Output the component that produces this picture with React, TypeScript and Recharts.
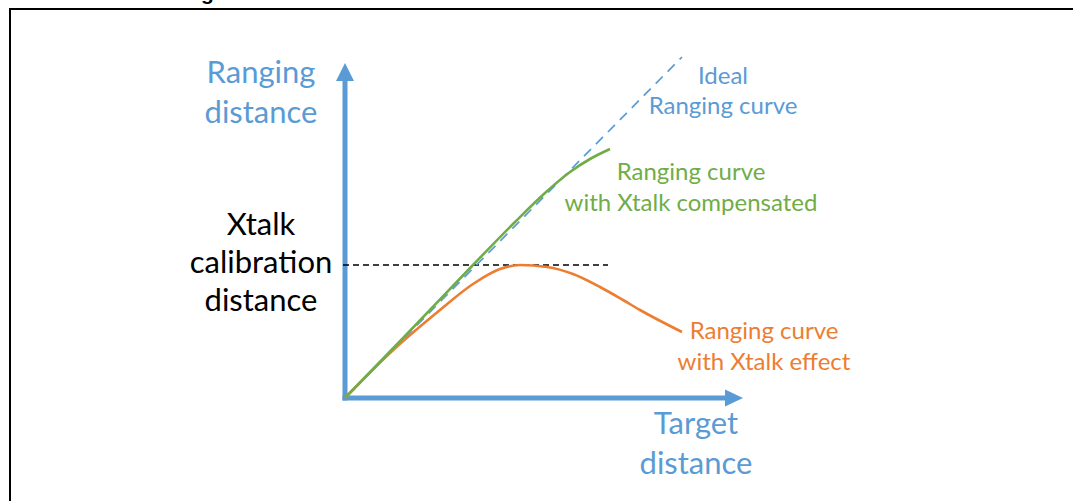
import React from "react";
import {
  LineChart,
  Line,
  XAxis,
  YAxis,
  ReferenceLine,
  ReferenceDot,
} from "recharts";

// chart units: 1 unit ~ 1px, origin at the axes corner
const idealCurve = [
  { x: 0, y: 0 },
  { x: 337, y: 341 },
];

const compensatedCurve = [
  { x: 0, y: 0 },
  { x: 60, y: 62 },
  { x: 128, y: 133 },
  { x: 170, y: 176 },
  { x: 200, y: 205 },
  { x: 225, y: 226 },
  { x: 245, y: 239 },
  { x: 265, y: 249 },
];

const xtalkCurve = [
  { x: 0, y: 0 },
  { x: 45, y: 45 },
  { x: 95, y: 88 },
  { x: 128, y: 114 },
  { x: 155, y: 129 },
  { x: 175, y: 133 },
  { x: 202, y: 131 },
  { x: 228, y: 124 },
  { x: 255, y: 111 },
  { x: 278, y: 98 },
  { x: 295, y: 88 },
  { x: 337, y: 66 },
];

const calibrationLevel = 133;
const calibrationEnd = 263;

const yAxisLabel = ["Ranging", "distance"];
const xAxisLabel = ["Target", "distance"];
const calibLabel = ["Xtalk", "calibration", "distance"];
const idealLabel = ["Ideal", "Ranging curve"];
const compLabel = ["Ranging curve", "with Xtalk compensated"];
const effectLabel = ["Ranging curve", "with Xtalk effect"];

const BLUE = "#5B9BD5";
const GREEN = "#70AD47";
const ORANGE = "#ED7D31";
const FONT = "Lato, 'Open Sans', sans-serif";

const W = 1073;
const H = 501;

const UpArrow = (props: any) => {
  const { cx, cy } = props;
  return <polygon points={`${cx},${cy} ${cx - 9},${cy + 18} ${cx + 9},${cy + 18}`} fill={BLUE} />;
};

const RightArrow = (props: any) => {
  const { cx, cy } = props;
  return <polygon points={`${cx},${cy} ${cx - 18},${cy - 8.5} ${cx - 18},${cy + 8.5}`} fill={BLUE} />;
};

function TextBlock({ lines, x, y, size, color, gap }: { lines: string[]; x: number; y: number; size: number; color: string; gap: number }) {
  return (
    <text x={x} y={y} textAnchor="middle" fill={color} fontSize={size} fontFamily={FONT}>
      {lines.map((l, i) => (
        <tspan key={i} x={x} dy={i === 0 ? 0 : gap}>
          {l}
        </tspan>
      ))}
    </text>
  );
}

export default function App() {
  return (
    <div style={{ position: "absolute", left: 0, top: 0, width: W, height: H, background: "#fff", overflow: "hidden" }}>
      {/* clipped caption above the frame */}
      <div
        style={{
          position: "absolute",
          left: 201,
          top: -19,
          fontFamily: "'Liberation Sans', Arial, sans-serif",
          fontWeight: "bold",
          fontSize: 21,
          lineHeight: "24px",
        }}
      >
        g
      </div>
      <div
        style={{
          position: "absolute",
          left: 9,
          top: 8,
          width: W,
          height: H,
          borderTop: "2.5px solid #000",
          borderLeft: "2.5px solid #000",
        }}
      />
      <div style={{ position: "absolute", left: 0, top: 0 }}>
        <LineChart width={W} height={H} margin={{ top: 53, left: 335, right: 328, bottom: 93 }}>
          <XAxis type="number" dataKey="x" domain={[-10, 400]} hide allowDataOverflow />
          <YAxis type="number" dataKey="y" domain={[-10, 345]} hide allowDataOverflow />

          <ReferenceLine
            segment={[{ x: -2.5, y: 0 }, { x: 381, y: 0 }]}
            stroke={BLUE}
            strokeWidth={5}
            ifOverflow="visible"
          />
          <ReferenceLine
            segment={[{ x: 0, y: -2.5 }, { x: 0, y: 318 }]}
            stroke={BLUE}
            strokeWidth={5}
            ifOverflow="visible"
          />
          <ReferenceDot x={0} y={335} r={0} shape={UpArrow} ifOverflow="visible" />
          <ReferenceDot x={398} y={0} r={0} shape={RightArrow} ifOverflow="visible" />

          <ReferenceLine
            segment={[{ x: -2, y: calibrationLevel }, { x: calibrationEnd, y: calibrationLevel }]}
            stroke="#000"
            strokeWidth={1.5}
            strokeDasharray="6 4"
            ifOverflow="visible"
          />

          <Line
            data={idealCurve}
            dataKey="y"
            type="linear"
            stroke={BLUE}
            strokeWidth={1.7}
            strokeDasharray="10 7"
            dot={false}
            activeDot={false}
            isAnimationActive={false}
          />
          <Line
            data={xtalkCurve}
            dataKey="y"
            type="monotone"
            stroke={ORANGE}
            strokeWidth={2.6}
            dot={false}
            activeDot={false}
            isAnimationActive={false}
          />
          <Line
            data={compensatedCurve}
            dataKey="y"
            type="monotone"
            stroke={GREEN}
            strokeWidth={2.6}
            dot={false}
            activeDot={false}
            isAnimationActive={false}
          />
        </LineChart>
      </div>
      <svg width={W} height={H} style={{ position: "absolute", left: 0, top: 0, pointerEvents: "none" }}>
        <TextBlock lines={yAxisLabel} x={261} y={83} size={31} color={BLUE} gap={40} />
        <TextBlock lines={calibLabel} x={261} y={235} size={31} color="#000" gap={38} />
        <TextBlock lines={xAxisLabel} x={696} y={434} size={31} color={BLUE} gap={40} />
        <TextBlock lines={idealLabel} x={723} y={84} size={24} color={BLUE} gap={30} />
        <TextBlock lines={compLabel} x={691} y={180} size={24} color={GREEN} gap={31} />
        <TextBlock lines={effectLabel} x={764} y={339} size={24} color={ORANGE} gap={31} />
      </svg>
    </div>
  );
}
